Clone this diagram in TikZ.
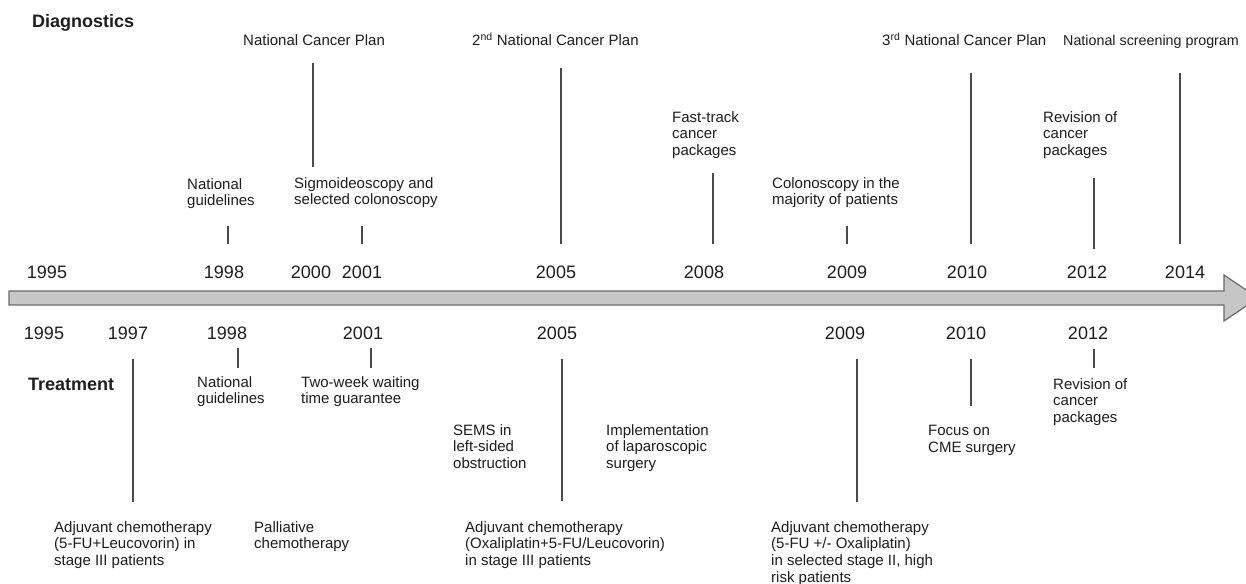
\documentclass[tikz,border=0pt]{standalone}
\usepackage{fontspec}
\setmainfont{Liberation Sans}
\definecolor{txt}{HTML}{1E1E1E}
\definecolor{ln}{HTML}{4A4A4A}
\definecolor{barfill}{HTML}{C6C6C6}
\definecolor{barline}{HTML}{6A6A6A}
\begin{document}
\begin{tikzpicture}[x=1pt,y=-1pt,
  lbl/.style={inner sep=0pt,anchor=north west,align=left,text=txt,font=\fontsize{15}{16.7}\selectfont},
  ttl/.style={inner sep=0pt,anchor=base west,text=txt,font=\fontsize{15}{16.7}\selectfont},
  yr/.style={inner sep=0pt,anchor=base,text=txt,font=\fontsize{18}{20}\selectfont},
  head/.style={inner sep=0pt,anchor=base west,text=txt,font=\fontsize{18}{20}\selectfont\bfseries},
  tickln/.style={draw=ln,line width=1.3pt}]
\useasboundingbox (0,0) rectangle (1246,583);
\clip (0,0) rectangle (1246,583);
\fill[white] (0,0) rectangle (1246,583);

% timeline arrow
\draw[fill=barfill,draw=barline,line width=1.2pt]
  (9,291) -- (1224,291) -- (1224,275) -- (1258,298) -- (1224,321) -- (1224,305) -- (9,305) -- cycle;

% headings
\node[head] (hdiag) at (32,28) {Diagnostics};
\node[head] (htreat) at (28,390) {Treatment};

% top years
\node[yr] (t1995) at (47,278) {1995};
\node[yr] (t1998) at (224,278) {1998};
\node[yr] (t2000) at (311,278) {2000};
\node[yr] (t2001) at (362,278) {2001};
\node[yr] (t2005) at (556,278) {2005};
\node[yr] (t2008) at (704,278) {2008};
\node[yr] (t2009) at (847,278) {2009};
\node[yr] (t2010) at (967,278) {2010};
\node[yr] (t2012) at (1087,278) {2012};
\node[yr] (t2014) at (1185,278) {2014};

% bottom years
\node[yr] (b1995) at (44,339) {1995};
\node[yr] (b1997) at (128,339) {1997};
\node[yr] (b1998) at (227,339) {1998};
\node[yr] (b2001) at (363,339) {2001};
\node[yr] (b2005) at (557,339) {2005};
\node[yr] (b2009) at (845,339) {2009};
\node[yr] (b2010) at (966,339) {2010};
\node[yr] (b2012) at (1088,339) {2012};

% top titles
\node[ttl] (ncp1) at (243,46) {National Cancer Plan};
\node[ttl] (ncp2) at (472,46) {2\textsuperscript{nd} National Cancer Plan};
\node[ttl] (ncp3) at (882,46) {3\textsuperscript{rd} National Cancer Plan};
\node[ttl,font=\fontsize{14.3}{16}\selectfont] (nsp) at (1063,46) {National screening program};

% diagnostics labels
\node[lbl] (dguid) at (187,178) {National\\guidelines};
\node[lbl] (dsigm) at (294,177) {Sigmoideoscopy and\\selected colonoscopy};
\node[lbl] (dfast) at (672,111) {Fast-track\\cancer\\packages};
\node[lbl] (dcolo) at (772,177) {Colonoscopy in the\\majority of patients};
\node[lbl] (drev) at (1043,111) {Revision of\\cancer\\packages};

% treatment labels
\node[lbl] (tguid) at (197,376) {National\\guidelines};
\node[lbl] (ttwo) at (301,376) {Two-week waiting\\time guarantee};
\node[lbl] (tsems) at (453,424) {SEMS in\\left-sided\\obstruction};
\node[lbl] (tlap) at (606,424) {Implementation\\of laparoscopic\\surgery};
\node[lbl] (tcme) at (928,425) {Focus on\\CME surgery};
\node[lbl] (trev) at (1053,378) {Revision of\\cancer\\packages};
\node[lbl] (tadj1) at (54,521) {Adjuvant chemotherapy\\(5-FU+Leucovorin) in\\stage III patients};
\node[lbl] (tpal) at (254,521) {Palliative\\chemotherapy};
\node[lbl] (tadj2) at (465,521) {Adjuvant chemotherapy\\(Oxaliplatin+5-FU/Leucovorin)\\in stage III patients};
\node[lbl] (tadj3) at (771,521) {Adjuvant chemotherapy\\(5-FU +/- Oxaliplatin)\\in selected stage II, high\\risk patients};

% diagnostics connectors
\draw[tickln] (228,226) coordinate (d98a) -- (228,244) coordinate (d98b);
\draw[tickln] (313,63) coordinate (d00a) -- (313,167) coordinate (d00b);
\draw[tickln] (362,226) coordinate (d01a) -- (362,244) coordinate (d01b);
\draw[tickln] (561,68) coordinate (d05a) -- (561,244) coordinate (d05b);
\draw[tickln] (713,173) coordinate (d08a) -- (713,244) coordinate (d08b);
\draw[tickln] (847,226) coordinate (d09a) -- (847,244) coordinate (d09b);
\draw[tickln] (971,73) coordinate (d10a) -- (971,244) coordinate (d10b);
\draw[tickln] (1094,178) coordinate (d12a) -- (1094,249) coordinate (d12b);
\draw[tickln] (1180,73) coordinate (d14a) -- (1180,244) coordinate (d14b);

% treatment connectors
\draw[tickln] (133,359) coordinate (t97a) -- (133,502) coordinate (t97b);
\draw[tickln] (238,348) coordinate (t98a) -- (238,368) coordinate (t98b);
\draw[tickln] (371,348) coordinate (t01a) -- (371,368) coordinate (t01b);
\draw[tickln] (562,359) coordinate (t05a) -- (562,501) coordinate (t05b);
\draw[tickln] (857,359) coordinate (t09a) -- (857,502) coordinate (t09b);
\draw[tickln] (971,359) coordinate (t10a) -- (971,406) coordinate (t10b);
\draw[tickln] (1094,349) coordinate (t12a) -- (1094,368) coordinate (t12b);
\end{tikzpicture}
\end{document}
